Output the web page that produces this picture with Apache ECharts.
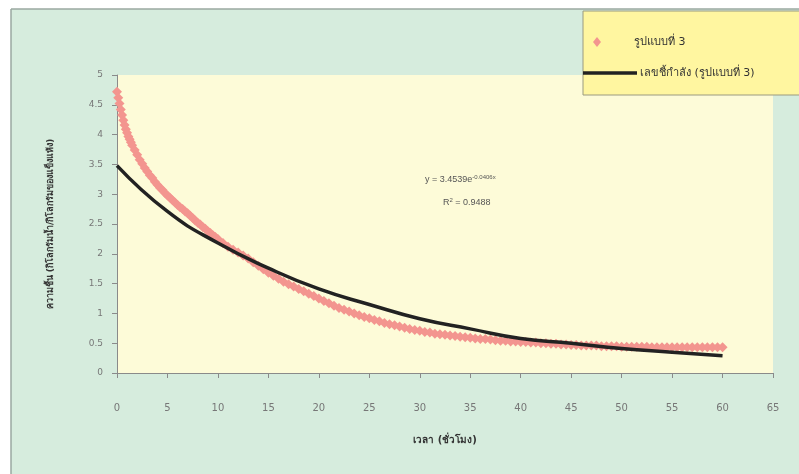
<!DOCTYPE html>
<html>
<head>
<meta charset="utf-8">
<script src="https://cdn.jsdelivr.net/npm/echarts@6/dist/echarts.min.js"></script>
<style>
html,body{margin:0;padding:0;background:#ffffff;}
#c{width:799px;height:474px;}
</style>
</head>
<body>
<div id="c"></div>
<script>
// ---- data ----
const seriesName = 'รูปแบบที่ 3';
const trendName = 'เลขชี้กำลัง (รูปแบบที่ 3)';
const xTitle = 'เวลา (ชั่วโมง)';
const yTitle = 'ความชื้น (กิโลกรัมน้ำ/กิโลกรัมของแข็งแห้ง)';
const xTicks = [0,5,10,15,20,25,30,35,40,45,50,55,60,65];
const yTicks = [0,0.5,1,1.5,2,2.5,3,3.5,4,4.5,5];

const hours = [
  0,0.125,0.25,0.375,0.5,0.625,0.75,0.875,1,1.125,1.25,1.375,1.5,1.75,2,2.25,2.5,2.75,3,3.25,3.5,3.75,4,4.25,4.5,4.75,
  5,5.25,5.5,5.75,6,6.25,6.5,6.75,7,7.25,7.5,7.75,8,8.25,8.5,8.75,9,9.25,9.5,9.75,
  10,10.5,11,11.5,12,12.5,13,13.5,14,14.5,15,15.5,16,16.5,17,17.5,18,18.5,19,19.5,
  20,20.5,21,21.5,22,22.5,23,23.5,24,24.5,25,25.5,26,26.5,27,27.5,28,28.5,29,29.5,
  30,30.5,31,31.5,32,32.5,33,33.5,34,34.5,35,35.5,36,36.5,37,37.5,38,38.5,39,39.5,
  40,40.5,41,41.5,42,42.5,43,43.5,44,44.5,45,45.5,46,46.5,47,47.5,48,48.5,49,49.5,
  50,50.5,51,51.5,52,52.5,53,53.5,54,54.5,55,55.5,56,56.5,57,57.5,58,58.5,59,59.5,60
];
const moisture = [
  4.72,4.62,4.52,4.42,4.33,4.24,4.16,4.09,4.03,3.97,3.92,3.87,3.82,3.74,3.66,3.58,3.51,3.44,3.38,3.32,3.27,3.21,3.16,3.11,3.07,3.02,
  2.98,2.94,2.90,2.86,2.82,2.78,2.75,2.71,2.68,2.64,2.60,2.56,2.52,2.49,2.45,2.42,2.38,2.35,2.31,2.28,
  2.25,2.18,2.12,2.07,2.02,1.97,1.92,1.86,1.80,1.74,1.68,1.63,1.58,1.53,1.49,1.45,1.41,1.37,1.33,1.29,
  1.25,1.21,1.17,1.13,1.09,1.06,1.03,1.00,0.97,0.94,0.92,0.89,0.87,0.84,0.82,0.80,0.78,0.76,0.74,0.72,
  0.71,0.69,0.68,0.66,0.65,0.64,0.63,0.62,0.61,0.60,0.59,0.58,0.57,0.57,0.56,0.55,0.54,0.54,0.53,0.53,
  0.52,0.52,0.51,0.51,0.50,0.50,0.49,0.49,0.48,0.48,0.47,0.47,0.46,0.46,0.46,0.46,0.45,0.45,0.45,0.45,
  0.44,0.44,0.44,0.44,0.44,0.44,0.43,0.43,0.43,0.43,0.43,0.43,0.43,0.43,0.43,0.43,0.43,0.43,0.43,0.43,0.43
];
const trendHours = [0,5,10,15,20,25,30,35,40,45,50,55,60];
const trendValues = [3.48,2.71,2.18,1.76,1.41,1.15,0.91,0.74,0.58,0.50,0.41,0.35,0.29];
const eqCoef = '3.4539';
const eqExp = '-0.0406x';
const r2Text = '0.9488';

const chart = echarts.init(document.getElementById('c'), null, {renderer:'canvas'});
const font = '"DejaVu Sans", "Noto Sans", sans-serif';
const option = {
  animation:false,
  backgroundColor:'#d6ecdd',
  textStyle:{fontFamily:font},
  grid:{left:117,right:26,top:75,bottom:101,show:true,backgroundColor:'#fdfbd8',borderWidth:0},
  xAxis:{
    type:'value',min:0,max:65,interval:5,
    name:xTitle,nameLocation:'middle',nameGap:62,
    nameTextStyle:{fontSize:10,color:'#333',fontWeight:'bold',fontFamily:font},
    axisLine:{show:true,lineStyle:{color:'#8a8a8a',width:1}},
    axisTick:{show:true,length:5,lineStyle:{color:'#8a8a8a'}},
    axisLabel:{margin:30,fontSize:10,color:'#777',formatter:v=>xTicks.includes(v)?String(v):''},
    splitLine:{show:false}
  },
  yAxis:{
    type:'value',min:0,max:5,interval:0.5,
    name:yTitle,nameLocation:'middle',nameGap:62,
    nameTextStyle:{fontSize:9,color:'#333',fontWeight:'bold',fontFamily:font},
    axisLine:{show:true,lineStyle:{color:'#8a8a8a',width:1}},
    axisTick:{show:true,length:5,lineStyle:{color:'#8a8a8a'}},
    axisLabel:{margin:14,fontSize:9,color:'#777',formatter:v=>yTicks.includes(v)?String(v):''},
    splitLine:{show:false}
  },
  series:[
    {
      name:seriesName,type:'scatter',symbol:'diamond',symbolSize:10,
      itemStyle:{color:'#f3958f',opacity:1},
      data:hours.map((h,i)=>[h,moisture[i]]),z:2
    },
    {
      name:trendName,type:'line',smooth:true,showSymbol:false,
      lineStyle:{color:'#222222',width:3.5},
      data:trendHours.map((h,i)=>[h,trendValues[i]]),z:3
    }
  ],
  graphic:[
    {type:'rect',shape:{x:0,y:0,width:799,height:9},style:{fill:'#ffffff'},silent:true,z:-1},
    {type:'rect',shape:{x:0,y:0,width:11,height:474},style:{fill:'#ffffff'},silent:true,z:-1},
    {type:'line',shape:{x1:11,y1:9,x2:799,y2:9},style:{stroke:'#9aa8a0',lineWidth:1.5}},
    {type:'line',shape:{x1:11,y1:9,x2:11,y2:474},style:{stroke:'#9aa8a0',lineWidth:1.5}},
    // legend box
    {type:'rect',shape:{x:583,y:11,width:220,height:84},style:{fill:'#fff6a0',stroke:'#9a9a80',lineWidth:1}},
    {type:'polygon',shape:{points:[[597,37],[601,42],[597,47],[593,42]]},style:{fill:'#f3958f'}},
    {type:'text',style:{x:634,y:42,text:seriesName,fontSize:11,fill:'#333',fontFamily:font,verticalAlign:'middle'}},
    {type:'line',shape:{x1:583,y1:73,x2:637,y2:73},style:{stroke:'#222',lineWidth:3.5}},
    {type:'text',style:{x:640,y:73,text:trendName,fontSize:11,fill:'#333',fontFamily:font,verticalAlign:'middle'}},
    // equation
    {type:'text',style:{x:425,y:186,verticalAlign:'bottom',fontFamily:font,
      text:'{m|y = '+eqCoef+'e}{s|'+eqExp+'}',
      rich:{m:{fontSize:9,fill:'#555'},s:{fontSize:6,fill:'#555',padding:[0,0,6,0]}}}},
    {type:'text',style:{x:443,y:209,verticalAlign:'bottom',fontFamily:font,
      text:'{m|R}{s|2}{m| = '+r2Text+'}',
      rich:{m:{fontSize:9,fill:'#555'},s:{fontSize:6,fill:'#555',padding:[0,0,6,0]}}}}
  ]
};
chart.setOption(option);
</script>
</body>
</html>
